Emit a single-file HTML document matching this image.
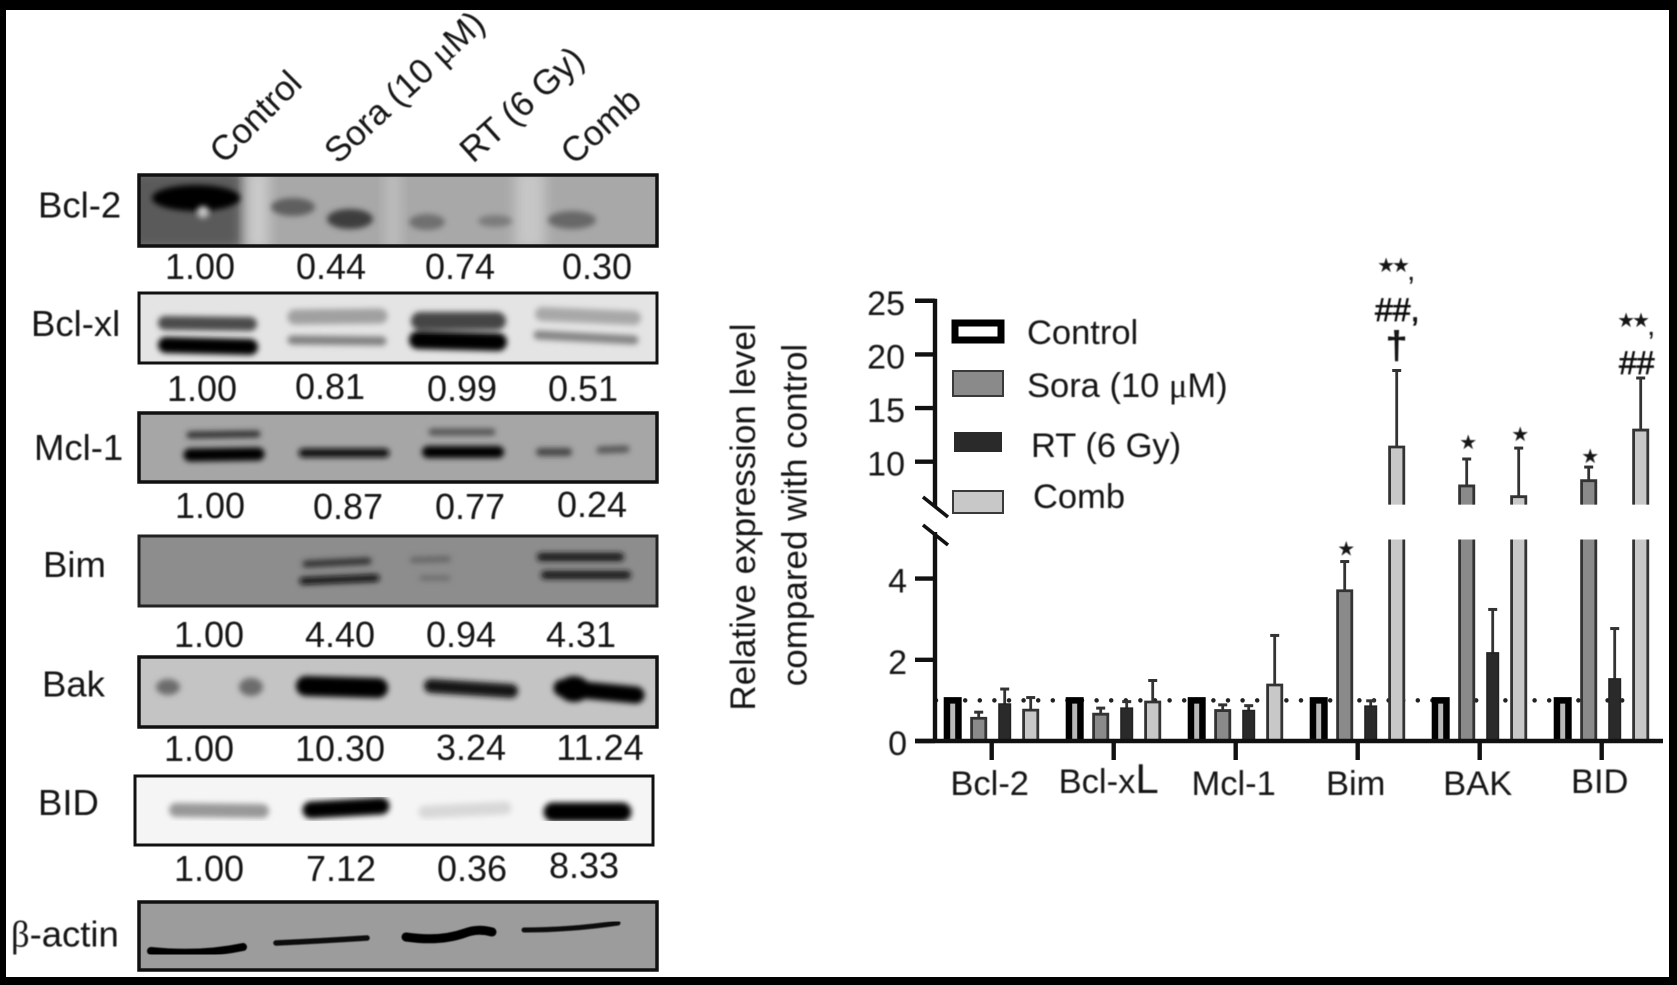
<!DOCTYPE html>
<html lang="en">
<head>
<meta charset="utf-8">
<title>Western blots and relative expression chart</title>
<style>
html,body{margin:0;padding:0;background:#fff;}
#stage{display:block;width:1677px;height:985px;}
text{font-family:"Liberation Sans",sans-serif;fill:#121212;}
.soft{filter:url(#textSoft);}
</style>
</head>
<body>
<svg id="stage" xmlns="http://www.w3.org/2000/svg" width="1677" height="985" viewBox="0 0 1677 985">
<defs>
<filter id="textSoft" x="-5%" y="-5%" width="110%" height="110%"><feGaussianBlur stdDeviation="0.65"/></filter>
<filter id="b2" x="-30%" y="-150%" width="160%" height="400%"><feGaussianBlur stdDeviation="3"/></filter>
<filter id="b4" x="-40%" y="-100%" width="180%" height="300%"><feGaussianBlur stdDeviation="6"/></filter>
<clipPath id="c1"><rect x="139" y="175" width="518" height="71"/></clipPath>
</defs>
<rect x="0" y="0" width="1677" height="985" fill="#ffffff"/>

<g class="soft" font-size="35">
<text transform="translate(224 165) rotate(-45)">Control</text>
<text transform="translate(338 165) rotate(-43)">Sora (10 <tspan font-family="Liberation Serif">μ</tspan>M)</text>
<text transform="translate(473 164) rotate(-42)">RT (6 Gy)</text>
<text transform="translate(574 166) rotate(-42)">Comb</text>
</g>

<!-- Blot panels -->
<g>
<rect x="139" y="175" width="518" height="71" fill="#a8a8a8"/>
<g clip-path="url(#c1)">
<rect x="120" y="170" width="122" height="80" fill="#5a5a5a" filter="url(#b4)"/>
<rect x="247" y="170" width="22" height="80" fill="#cacaca" filter="url(#b4)"/>
<rect x="515" y="170" width="30" height="80" fill="#c6c6c6" filter="url(#b4)"/>
<rect x="385" y="170" width="16" height="80" fill="#bdbdbd" filter="url(#b4)"/>
<ellipse cx="196" cy="198" rx="44" ry="13" fill="#000" filter="url(#b2)"/>
<circle cx="203" cy="212" r="6" fill="#c4c4c4" filter="url(#b2)"/>
<ellipse cx="293" cy="207" rx="22" ry="9" fill="#5e5e5e" filter="url(#b2)"/>
<ellipse cx="350" cy="219" rx="23" ry="10" fill="#3c3c3c" filter="url(#b2)"/>
<ellipse cx="427" cy="222" rx="18" ry="8" fill="#707070" filter="url(#b2)"/>
<ellipse cx="495" cy="221" rx="17" ry="6" fill="#7c7c7c" filter="url(#b2)"/>
<ellipse cx="572" cy="220" rx="24" ry="9" fill="#686868" filter="url(#b2)"/>
</g>
<rect x="139" y="175" width="518" height="71" fill="none" stroke="#111" stroke-width="3.5"/>
</g>

<g>
<rect x="139" y="293" width="518" height="70" fill="#e4e4e4"/>
<g filter="url(#b2)">
<line x1="165" y1="323" x2="250" y2="324" stroke="#4c4c4c" stroke-width="14" stroke-linecap="round"/>
<line x1="166" y1="345" x2="250" y2="347" stroke="#000" stroke-width="16" stroke-linecap="round"/>
<line x1="295" y1="317" x2="380" y2="316" stroke="#a0a0a0" stroke-width="15" stroke-linecap="round"/>
<line x1="292" y1="340" x2="382" y2="341" stroke="#808080" stroke-width="9" stroke-linecap="round"/>
<line x1="420" y1="321" x2="497" y2="321" stroke="#444" stroke-width="18" stroke-linecap="round"/>
<line x1="418" y1="340" x2="498" y2="342" stroke="#000" stroke-width="18" stroke-linecap="round"/>
<line x1="542" y1="314" x2="634" y2="318" stroke="#a8a8a8" stroke-width="14" stroke-linecap="round"/>
<line x1="538" y1="335" x2="634" y2="340" stroke="#848484" stroke-width="9" stroke-linecap="round"/>
</g>
<rect x="139" y="293" width="518" height="70" fill="none" stroke="#111" stroke-width="3"/>
</g>

<g>
<rect x="139" y="413" width="518" height="69" fill="#a6a6a6"/>
<g filter="url(#b2)">
<line x1="190" y1="435" x2="257" y2="434" stroke="#333" stroke-width="7" stroke-linecap="round"/>
<line x1="190" y1="455" x2="258" y2="454" stroke="#000" stroke-width="13" stroke-linecap="round"/>
<line x1="303" y1="453" x2="385" y2="453" stroke="#0e0e0e" stroke-width="9" stroke-linecap="round"/>
<line x1="432" y1="432" x2="492" y2="432" stroke="#555" stroke-width="7" stroke-linecap="round"/>
<line x1="428" y1="452" x2="498" y2="452" stroke="#000" stroke-width="12" stroke-linecap="round"/>
<line x1="540" y1="452" x2="568" y2="452" stroke="#444" stroke-width="8" stroke-linecap="round"/>
<line x1="600" y1="450" x2="626" y2="449" stroke="#555" stroke-width="7" stroke-linecap="round"/>
</g>
<rect x="139" y="413" width="518" height="69" fill="none" stroke="#111" stroke-width="3.5"/>
</g>

<g>
<rect x="139" y="536" width="518" height="70" fill="#8d8d8d"/>
<g filter="url(#b2)">
<line x1="306" y1="564" x2="368" y2="561" stroke="#333" stroke-width="7" stroke-linecap="round"/>
<line x1="303" y1="581" x2="376" y2="578" stroke="#0a0a0a" stroke-width="7" stroke-linecap="round"/>
<line x1="413" y1="560" x2="448" y2="559" stroke="#666" stroke-width="6" stroke-linecap="round"/>
<line x1="422" y1="578" x2="448" y2="578" stroke="#6c6c6c" stroke-width="5" stroke-linecap="round"/>
<line x1="541" y1="557" x2="620" y2="557" stroke="#141414" stroke-width="8" stroke-linecap="round"/>
<line x1="545" y1="575" x2="627" y2="575" stroke="#141414" stroke-width="8" stroke-linecap="round"/>
</g>
<rect x="139" y="536" width="518" height="70" fill="none" stroke="#222" stroke-width="3"/>
</g>

<g>
<rect x="139" y="657" width="518" height="70" fill="#c4c4c4"/>
<g filter="url(#b2)">
<ellipse cx="168" cy="687" rx="12" ry="8" fill="#6c6c6c"/>
<ellipse cx="251" cy="687" rx="12" ry="9" fill="#6c6c6c"/>
<line x1="306" y1="686" x2="378" y2="688" stroke="#000" stroke-width="20" stroke-linecap="round"/>
<line x1="431" y1="686" x2="511" y2="691" stroke="#141414" stroke-width="14" stroke-linecap="round"/>
<line x1="562" y1="688" x2="636" y2="695" stroke="#000" stroke-width="17" stroke-linecap="round"/>
<ellipse cx="574" cy="689" rx="16" ry="13" fill="#000"/>
</g>
<rect x="139" y="657" width="518" height="70" fill="none" stroke="#111" stroke-width="3.5"/>
</g>

<g>
<rect x="135" y="776" width="518" height="69" fill="#f5f5f5"/>
<g filter="url(#b2)">
<line x1="176" y1="810" x2="262" y2="811" stroke="#989898" stroke-width="14" stroke-linecap="round"/>
<line x1="311" y1="810" x2="381" y2="806" stroke="#000" stroke-width="17" stroke-linecap="round"/>
<line x1="425" y1="812" x2="505" y2="808" stroke="#d8d8d8" stroke-width="13" stroke-linecap="round"/>
<line x1="553" y1="812" x2="622" y2="812" stroke="#000" stroke-width="19" stroke-linecap="round"/>
</g>
<rect x="135" y="776" width="518" height="69" fill="none" stroke="#111" stroke-width="3"/>
</g>

<g>
<rect x="139" y="902" width="518" height="68" fill="#9c9c9c"/>
<g fill="none" stroke-linecap="round" filter="url(#textSoft)">
<path d="M151 951 Q200 956 243 947" stroke="#000" stroke-width="8"/>
<path d="M276 943 Q320 941 367 938" stroke="#0c0c0c" stroke-width="5.5"/>
<path d="M406 937 Q440 942 465 933 Q478 928 492 932" stroke="#000" stroke-width="9"/>
<path d="M524 930 Q570 930 618 923" stroke="#0c0c0c" stroke-width="5"/>
</g>
<rect x="139" y="902" width="518" height="68" fill="none" stroke="#111" stroke-width="3.5"/>
</g>

<g class="soft" font-size="36.5">
<text x="38" y="217.5">Bcl-2</text>
<text x="31" y="336">Bcl-xl</text>
<text x="34" y="460">Mcl-1</text>
<text x="43" y="577">Bim</text>
<text x="42" y="696.5">Bak</text>
<text x="38" y="815">BID</text>
<text x="11" y="946.5"><tspan font-family="Liberation Serif">β</tspan>-actin</text>
</g>

<g class="soft" font-size="36" text-anchor="middle">
<text x="200" y="279">1.00</text>
<text x="331" y="279">0.44</text>
<text x="460" y="279">0.74</text>
<text x="597" y="279">0.30</text>
<text x="202" y="401">1.00</text>
<text x="330" y="399">0.81</text>
<text x="462" y="401">0.99</text>
<text x="583" y="401">0.51</text>
<text x="210" y="518">1.00</text>
<text x="348" y="519">0.87</text>
<text x="470" y="519">0.77</text>
<text x="592" y="517">0.24</text>
<text x="209" y="647">1.00</text>
<text x="340" y="647">4.40</text>
<text x="461" y="647">0.94</text>
<text x="581" y="647">4.31</text>
<text x="199" y="761">1.00</text>
<text x="340" y="761">10.30</text>
<text x="471" y="760">3.24</text>
<text x="600" y="760">11.24</text>
<text x="209" y="881">1.00</text>
<text x="341" y="881">7.12</text>
<text x="472" y="881">0.36</text>
<text x="584" y="878">8.33</text>
</g>

<!-- Bar chart -->
<g id="chart"></g>

<g class="soft" font-size="35" text-anchor="middle">
<text transform="translate(755 517) rotate(-90)">Relative expression level</text>
<text transform="translate(806.5 515) rotate(-90)">compared with control</text>
</g>

<g>
<g>
<rect x="955" y="323" width="46" height="17" fill="#fff" stroke="#000" stroke-width="7"/>
<text class="soft" x="1027" y="344" font-size="34.5">Control</text>
</g>
<g>
<rect x="953" y="371" width="50" height="25" fill="#8a8a8a" stroke="#3a3a3a" stroke-width="2"/>
<text class="soft" x="1027" y="397" font-size="34.5">Sora (10 <tspan font-family="Liberation Serif">μ</tspan>M)</text>
</g>
<g>
<rect x="955" y="433" width="46" height="18" fill="#2a2a2a" stroke="#2a2a2a" stroke-width="2"/>
<text class="soft" x="1031" y="457" font-size="34.5">RT (6 Gy)</text>
</g>
<g>
<rect x="953" y="491" width="50" height="22" fill="#c8c8c8" stroke="#3a3a3a" stroke-width="2"/>
<text class="soft" x="1033" y="508" font-size="34.5">Comb</text>
</g>
</g>

<!-- Black frame -->
<g fill="#000">
<rect x="0" y="0" width="1677" height="10"/>
<rect x="0" y="977" width="1677" height="8"/>
<rect x="0" y="0" width="6" height="985"/>
<rect x="1669" y="0" width="8" height="985"/>
</g>
</svg>

<script>
const categories = ['Bcl-2', 'Bcl-xL', 'Mcl-1', 'Bim', 'BAK', 'BID'];
const seriesNames = ['Control', 'Sora', 'RT', 'Comb'];
const controlValues = [1, 1, 1, 1, 1, 1];
const soraValues = [0.56, 0.66, 0.75, 3.7, 7.74, 8.23];
const rtValues = [0.91, 0.81, 0.75, 0.86, 2.17, 1.53];
const combValues = [0.76, 0.96, 1.38, 11.37, 6.74, 12.95];
const soraErrorTops = [0.71, 0.81, 0.89, 4.42, 10.25, 9.5];
const rtErrorTops = [1.28, 0.97, 0.87, 0.99, 3.24, 2.77];
const combErrorTops = [1.07, 1.49, 2.6, 18.5, 11.27, 17.8];
const upperTicks = [25, 20, 15, 10];
const lowerTicks = [4, 2, 0];
const referenceLevel = 1;

const NS = 'http://www.w3.org/2000/svg';
const chart = document.getElementById('chart');

/* Broken y axis: 0-5 lower segment, 6-25 upper segment */
function yAxis(v) {
  if (v <= 5) return 741 - v * 40.6;
  return 461.7 - (v - 10) * 10.73;
}
function xAxis(groupIndex, seriesIndex) {
  const tick = 991.7 + groupIndex * 122;
  if (seriesIndex === undefined) return tick;
  return tick + (seriesIndex - 1.5) * 26;
}
function make(tag, attrs, parent) {
  const el = document.createElementNS(NS, tag);
  for (const k in attrs) el.setAttribute(k, attrs[k]);
  (parent || chart).appendChild(el);
  return el;
}

/* reference dotted line */
const refLine = make('line', {x1: 936, x2: 1642, y1: yAxis(referenceLevel), y2: yAxis(referenceLevel), stroke: '#222', 'stroke-width': 4.5, 'stroke-linecap': 'round', 'stroke-dasharray': '0 14.6'});



const styles = [
  {fill: '#b8b8b8', stroke: '#000', sw: 6.5, w: 18},
  {fill: '#8a8a8a', stroke: '#333', sw: 2.8, w: 17},
  {fill: '#2a2a2a', stroke: '#222', sw: 1.5, w: 13},
  {fill: '#c8c8c8', stroke: '#333', sw: 2.8, w: 17}
];
const allValues = [controlValues, soraValues, rtValues, combValues];
const allErrors = [null, soraErrorTops, rtErrorTops, combErrorTops];

categories.forEach(function (cat, g) {
  allValues.forEach(function (vals, s) {
    const v = vals[g];
    const st = styles[s];
    const cx = xAxis(g, s);
    const half = st.w / 2 - st.sw / 2;
    const group = make('g', {});
    
    

    if (allErrors[s]) {
      const top = allErrors[s][g];
      make('line', {x1: cx, x2: cx, y1: yAxis(v), y2: yAxis(top), stroke: '#333', 'stroke-width': 2.8}, group);
      make('line', {x1: cx - 4.5, x2: cx + 4.5, y1: yAxis(top), y2: yAxis(top), stroke: '#333', 'stroke-width': 3}, group);
    }
    const paintProps = {fill: st.fill, stroke: st.stroke, 'stroke-width': st.sw};
    const base = yAxis(0);
    if (v > 5) {
      const lowerTop = yAxis(5);
      const upperBottom = yAxis(6);
      make('path', Object.assign({d: 'M' + (cx - half) + ' ' + base + 'V' + lowerTop + 'H' + (cx + half) + 'V' + base}, paintProps), group);
      make('rect', {x: cx - half - 3, y: lowerTop - 3, width: 2 * half + 6, height: 4.5, fill: '#fff'}, group);
      make('path', Object.assign({d: 'M' + (cx - half) + ' ' + upperBottom + 'V' + yAxis(v) + 'H' + (cx + half) + 'V' + upperBottom}, paintProps), group);
    } else {
      make('path', Object.assign({d: 'M' + (cx - half) + ' ' + base + 'V' + yAxis(v) + 'H' + (cx + half) + 'V' + base}, paintProps), group);
    }
  });
});

/* axes */
const axisGroup = make('g', {stroke: '#111', 'stroke-width': 4.4, fill: 'none'});


make('line', {x1: 935, x2: 935, y1: yAxis(25) - 2, y2: yAxis(6) + 2}, axisGroup);
make('line', {x1: 935, x2: 935, y1: yAxis(5) - 6, y2: yAxis(0)}, axisGroup);
make('line', {x1: 915, x2: 1663, y1: yAxis(0), y2: yAxis(0)}, axisGroup);
make('line', {x1: 923, x2: 948, y1: 497, y2: 517, 'stroke-width': 3.6}, axisGroup);
make('line', {x1: 923, x2: 948, y1: 525, y2: 545, 'stroke-width': 3.6}, axisGroup);

upperTicks.concat(lowerTicks).forEach(function (t) {
  const tickMark = make('line', {x1: 915, x2: 935, y1: yAxis(t), y2: yAxis(t)}, axisGroup);
  
  
  const label = make('text', {x: t >= 10 ? 905 : 907, y: yAxis(t) + 14, 'text-anchor': 'end', 'font-size': 34, stroke: 'none', class: 'soft'});
  label.textContent = t;
  
  
});

categories.forEach(function (cat, g) {
  const x = xAxis(g);
  const tickMark = make('line', {x1: x, x2: x, y1: yAxis(0), y2: yAxis(0) + 19}, axisGroup);
  
  
  const label = make('text', {x: x - 2 + (g === 1 ? -3 : 0), y: g === 1 || g === 5 ? 793 : 795, 'text-anchor': 'middle', 'font-size': 34.5, class: 'soft'});
  if (cat === 'Bcl-xL') {
    label.textContent = 'Bcl-x';
    const big = make('tspan', {'font-size': 42}, label);
    big.textContent = 'L';
  } else {
    label.textContent = cat;
  }
  
  
});

/* significance marks tied to the bars they annotate */
const starFont = '"DejaVu Sans",sans-serif';
function star(text, x, y, name) {
  const t = make('text', {x: x, y: y, 'text-anchor': 'middle', 'font-size': 20, 'letter-spacing': '-3', style: 'font-family:' + starFont, class: 'soft'});
  t.textContent = text;
  
  
}
function mark(text, x, y, size, name, heavy) {
  const t = make('text', {x: x, y: y, 'font-size': size, class: 'soft', stroke: '#121212', 'stroke-width': heavy || 0});
  t.textContent = text;
  
  
}
star('★', xAxis(3, 1), yAxis(soraErrorTops[3]) - 6, 'sig-star-bim-sora');
star('★', xAxis(4, 1), yAxis(soraErrorTops[4]) - 10, 'sig-star-bak-sora');
star('★', xAxis(4, 3), yAxis(combErrorTops[4]) - 7, 'sig-star-bak-comb');
star('★', xAxis(5, 1), yAxis(soraErrorTops[5]) - 4, 'sig-star-bid-sora');
star('★★', 1392, 272, 'sig-stars-bim-comb');
mark(',', 1407, 280, 30, 'sig-comma-bim-comb');
mark('##,', 1375, 321, 32, 'sig-hash-bim-comb', 0.7);
mark('†', 1386, 358, 38, 'sig-dagger-bim-comb', 1);
star('★★', 1632, 327, 'sig-stars-bid-comb');
mark(',', 1647, 335, 30, 'sig-comma-bid-comb');
mark('##', 1619, 374, 32, 'sig-hash-bid-comb', 0.7);
</script>
</body>
</html>
